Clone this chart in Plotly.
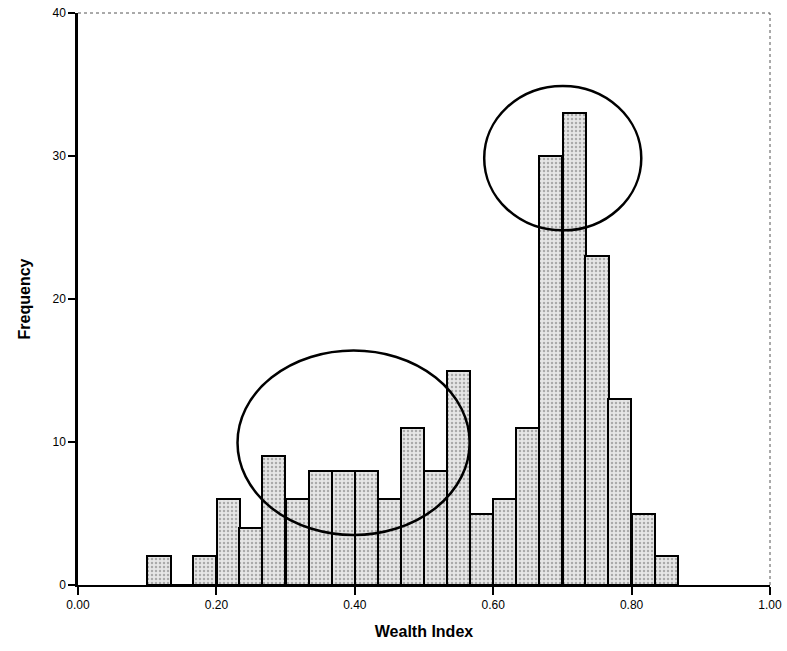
import plotly.graph_objects as go

# Histogram of the wealth index (bins of width 1/30)
bin_centers = [0.117, 0.150, 0.183, 0.217, 0.250, 0.283, 0.317, 0.350,
               0.383, 0.417, 0.450, 0.483, 0.517, 0.550, 0.583, 0.617,
               0.650, 0.683, 0.717, 0.750, 0.783, 0.817, 0.850]
counts = [2, 0, 2, 6, 4, 9, 6, 8, 8, 8, 6, 11, 8, 15, 5, 6, 11, 30, 33,
          23, 13, 5, 2]
BIN_WIDTH = 1 / 30

x_ticks = [0.0, 0.2, 0.4, 0.6, 0.8, 1.0]
x_ticklabels = ["0.00", "0.20", "0.40", "0.60", "0.80", "1.00"]
y_ticks = [0, 10, 20, 30, 40]

# ellipses drawn around the two clusters (x0, x1, y0, y1 in data units)
clusters = [(0.2305, 0.566, 3.5, 16.4),
            (0.587, 0.814, 24.8, 34.9)]

FONT = "Liberation Sans, Arial, sans-serif"

fig = go.Figure()
fig.add_trace(go.Bar(
    x=bin_centers, y=counts, width=BIN_WIDTH,
    marker=dict(color="#d6d6d6",
                line=dict(color="black", width=2),
                pattern=dict(shape=".", fgcolor="#6e6e6e",
                             bgcolor="#e6e6e6", size=4, solidity=0.3)),
    showlegend=False))

for x0, x1, y0, y1 in clusters:
    fig.add_shape(type="circle", xref="x", yref="y",
                  x0=x0, x1=x1, y0=y0, y1=y1,
                  line=dict(color="black", width=2.5))

# thin dotted frame on top and right
fig.add_shape(type="line", xref="paper", yref="paper", x0=0, x1=1, y0=1, y1=1,
              line=dict(color="#555", width=1, dash="dot"))
fig.add_shape(type="line", xref="paper", yref="paper", x0=1, x1=1, y0=0, y1=1,
              line=dict(color="#555", width=1, dash="dot"))

fig.update_layout(
    width=787, height=651,
    plot_bgcolor="white", paper_bgcolor="white",
    margin=dict(l=78, r=17, t=13, b=66, autoexpand=False),
    bargap=0,
    font=dict(family=FONT, color="black", size=12),
    xaxis=dict(range=[0, 1], tickvals=x_ticks, ticktext=x_ticklabels,
               ticks="outside", ticklen=8, tickwidth=1.5, tickcolor="black",
               showline=True, linecolor="black", linewidth=2,
               showgrid=False, zeroline=False, automargin=False,
               title=dict(text="<b>Wealth Index</b>",
                          font=dict(size=16, family=FONT), standoff=14)),
    yaxis=dict(range=[0, 40], tickvals=y_ticks,
               ticks="outside", ticklen=7, tickwidth=1.5, tickcolor="black",
               showline=True, linecolor="black", linewidth=2.5,
               showgrid=False, zeroline=False, automargin=False,
               title=dict(text="<b>Frequency</b>",
                          font=dict(size=16, family=FONT), standoff=18)),
)

fig.write_html("out.html", config={"displayModeBar": False},
               post_script="document.body.style.margin='0';")
